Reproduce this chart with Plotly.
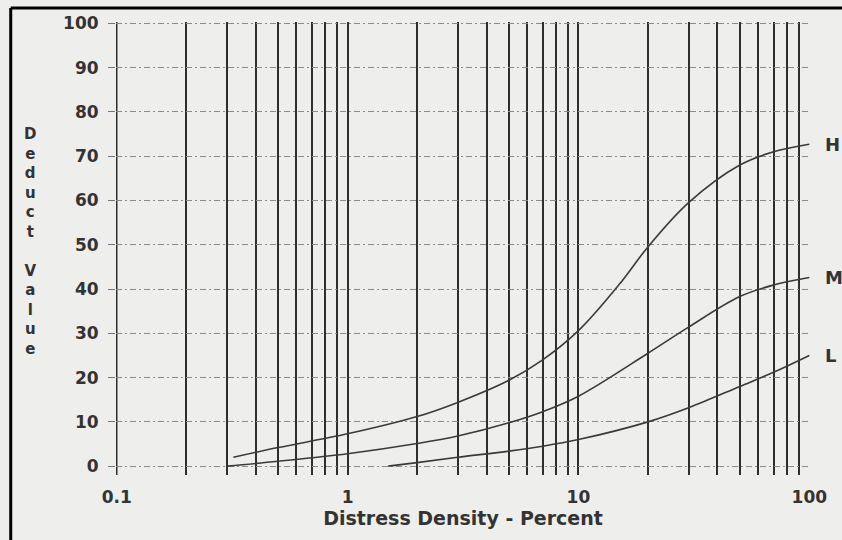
import plotly.graph_objects as go

# ---- data ----
h_x = [0.32, 0.5, 1, 2, 3, 5, 7, 10, 15, 20, 30, 50, 70, 100]
h_y = [2.0, 4.2, 7.3, 11.2, 14.4, 19.4, 24.0, 30.6, 41.0, 49.5, 59.5, 68.0, 71.0, 72.7]

m_x = [0.3, 0.5, 1, 2, 3, 5, 7, 10, 20, 30, 50, 70, 100]
m_y = [0.0, 1.1, 2.8, 5.1, 6.8, 9.8, 12.3, 15.8, 25.5, 31.4, 38.3, 40.9, 42.6]

l_x = [1.5, 2, 3, 5, 7, 10, 20, 30, 50, 70, 100]
l_y = [0.0, 0.8, 2.0, 3.4, 4.5, 6.0, 10.0, 13.2, 18.0, 21.2, 25.0]

series_names = ["H", "M", "L"]
series_end = [h_y[-1], m_y[-1], l_y[-1]]

x_grid = [0.1, 0.2, 0.3, 0.4, 0.5, 0.6, 0.7, 0.8, 0.9,
          1, 2, 3, 4, 5, 6, 7, 8, 9,
          10, 20, 30, 40, 50, 60, 70, 80, 90, 100]
x_labels = {0.1: "0.1", 1: "1", 10: "10", 100: "100"}
y_ticks = [0, 10, 20, 30, 40, 50, 60, 70, 80, 90, 100]

x_title = "Distress Density - Percent"
y_title = "Deduct  Value"

BG = "#eeeeec"
INK = "#333333"
GRID = "#2e2e2e"
FONT = "DejaVu Sans"

fig = go.Figure()
for xs, ys in [(h_x, h_y), (m_x, m_y), (l_x, l_y)]:
    fig.add_trace(go.Scatter(x=xs, y=ys, mode="lines",
                             line=dict(color="#3a3a3a", width=1.6, shape="spline", smoothing=1.0),
                             showlegend=False, hoverinfo="skip"))

for name, yv in zip(series_names, series_end):
    fig.add_annotation(x=2, y=yv, xref="x", yref="y", text=name, showarrow=False,
                       xanchor="left", yanchor="middle", xshift=14,
                       font=dict(family=FONT, size=18, color=INK, weight="bold"))

# stacked vertical y title
stack = "<br>".join([c if c != " " else "" for c in y_title.replace("  ", " ")])
fig.add_annotation(x=-0.124, y=0.515, xref="paper", yref="paper", text=stack,
                   showarrow=False, xanchor="center", yanchor="middle",
                   font=dict(family=FONT, size=15, color=INK, weight="bold"))

# leftmost grid line at the first grid value (plotly skips the edge gridline)
fig.add_shape(type="line", xref="x", yref="paper", x0=x_grid[0], x1=x_grid[0], y0=0, y1=1,
              line=dict(color=GRID, width=1.6), layer="below")

# scan frame (top and left edges)
fig.add_shape(type="line", xref="paper", yref="paper", x0=-0.1517, x1=1.06, y0=1.031, y1=1.031,
              line=dict(color="black", width=3))
fig.add_shape(type="line", xref="paper", yref="paper", x0=-0.1517, x1=-0.1517, y0=1.031, y1=-0.16,
              line=dict(color="black", width=3))

fig.update_layout(
    width=842, height=540,
    margin=dict(l=116, r=32, t=22, b=65, autoexpand=False),
    paper_bgcolor=BG, plot_bgcolor=BG,
    font=dict(family=FONT, color=INK),
    xaxis=dict(type="log", range=[-1.003, 2.003], automargin=False,
               tickvals=x_grid, ticktext=[x_labels.get(v, "") for v in x_grid],
               showgrid=True, gridcolor=GRID, gridwidth=1.6,
               ticks="", showline=False, zeroline=False,
               ticklabelstandoff=10,
               tickfont=dict(family=FONT, size=17, color=INK, weight="bold"),
               title=dict(text=x_title, standoff=0,
                          font=dict(family=FONT, size=19, color=INK, weight="bold"))),
    yaxis=dict(range=[-2, 100.3], tickvals=y_ticks, automargin=False,
               showgrid=True, gridcolor="#8a8a8a", gridwidth=1, griddash="6px,3px,2px,3px",
               ticks="outside", ticklen=7, tickcolor="#777", tickwidth=1,
               showline=False, zeroline=False, ticklabelstandoff=6,
               tickfont=dict(family=FONT, size=17, color=INK, weight="bold")),
)

fig.write_html("out.html", config={"displayModeBar": False},
               post_script="document.body.style.margin='0';")
